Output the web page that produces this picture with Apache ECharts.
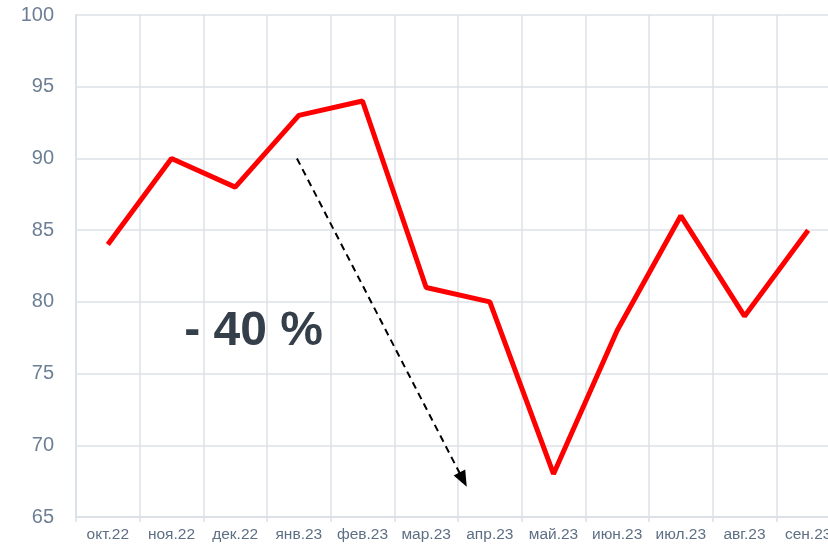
<!DOCTYPE html>
<html>
<head>
<meta charset="utf-8">
<script src="https://cdn.jsdelivr.net/npm/echarts@6/dist/echarts.min.js"></script>
<style>
  html, body { margin: 0; padding: 0; background: #fff; }
  #chart { width: 828px; height: 545px; }
</style>
</head>
<body>
<div id="chart"></div>
<script>
// months and values
const months = ['окт.22', 'ноя.22', 'дек.22', 'янв.23', 'фев.23', 'мар.23',
  'апр.23', 'май.23', 'июн.23', 'июл.23', 'авг.23', 'сен.23'];
const values = [84, 90, 88, 93, 94, 81, 80, 68, 78, 86, 79, 85];

// annotation: dashed arrow and label (in the hidden value axis units)
const arrowFrom = [3.47, 90];
const arrowTo = [6.08, 67.6];
const dropLabel = '- 40 %';
const dropLabelAt = [2.79, 77.9];

const gridColor = '#DCE1E7';

const chart = echarts.init(document.getElementById('chart'));

chart.setOption({
  animation: false,
  // plot runs past the right edge of the picture, like the original crop
  grid: { left: 76, width: 764, top: 15, bottom: 28, outerBoundsMode: 'none', containLabel: false },
  xAxis: [
    {
      type: 'category',
      data: months,
      boundaryGap: true,
      axisLine: { lineStyle: { color: gridColor, width: 2 } },
      axisTick: { show: true, length: 5, lineStyle: { color: gridColor, width: 1.5 } },
      axisLabel: { color: '#5E6F84', fontSize: 15.5, fontFamily: 'Liberation Sans, Arial', margin: 10, interval: 0 },
      splitLine: { show: true, lineStyle: { color: gridColor, width: 1.5 } }
    },
    {
      type: 'value',
      min: 0,
      max: 12,
      show: false
    }
  ],
  yAxis: {
    type: 'value',
    min: 65,
    max: 100,
    interval: 5,
    axisLine: { show: true, lineStyle: { color: gridColor, width: 2 } },
    axisTick: { show: false },
    axisLabel: { color: '#6C7F94', fontSize: 20, fontFamily: 'Liberation Sans, Arial', margin: 22 },
    splitLine: { lineStyle: { color: gridColor, width: 1.5 } }
  },
  series: [
    {
      type: 'line',
      data: values,
      symbol: 'none',
      lineStyle: { color: '#FF0000', width: 5 },
      z: 3
    },
    {
      type: 'line',
      xAxisIndex: 1,
      data: [],
      markLine: {
        silent: true,
        symbol: ['none', 'triangle'],
        symbolSize: [13, 16],
        label: { show: false },
        lineStyle: { color: '#000', type: [7, 5], width: 2 },
        data: [[{ coord: arrowFrom }, { coord: arrowTo }]]
      },
      markPoint: {
        silent: true,
        symbol: 'circle',
        symbolSize: 0,
        label: {
          show: true,
          formatter: dropLabel,
          color: '#343F4A',
          fontSize: 48,
          fontWeight: 'bold',
          fontFamily: 'Liberation Sans, Arial'
        },
        data: [{ coord: dropLabelAt }]
      }
    }
  ]
});
</script>
</body>
</html>
